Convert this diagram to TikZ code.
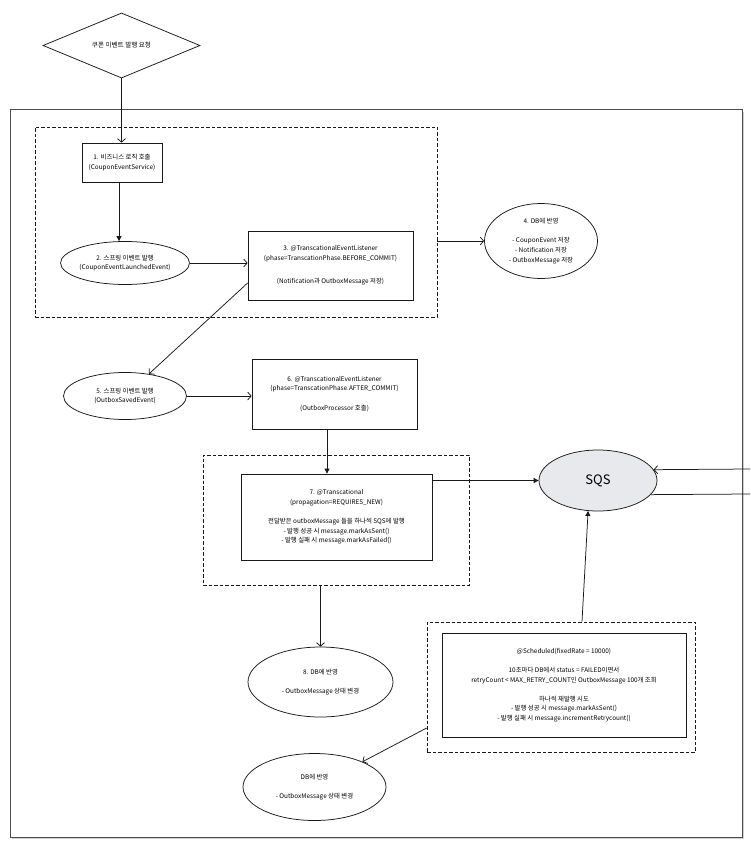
\documentclass[tikz,border=0pt]{standalone}
\usepackage{fontspec}
\setmainfont{Noto Sans CJK KR}
\usetikzlibrary{shapes.geometric,arrows.meta,calc}
\definecolor{sqsfill}{RGB}{232,233,236}
\begin{document}
\begin{tikzpicture}[x=1pt,y=-1pt,
  every node/.style={font=\fontsize{6.4}{9.6}\selectfont, text=black, align=center, inner sep=0pt},
  ln/.style={draw=black!90, line width=0.75pt},
  box/.style={ln, rectangle, fill=white},
  ell/.style={ln, ellipse, fill=white},
  grp/.style={draw=black!90, line width=0.75pt, dash pattern=on 3.5pt off 2pt, rectangle},
  openarr/.style={ln, -{Straight Barb[length=3.5pt,width=8pt,line width=0.75pt]}},
  filarr/.style={ln, -{Triangle[length=5pt,width=5pt]}}
]
\useasboundingbox (0,0) rectangle (750,853);
\fill[white] (0,0) rectangle (750,853);

% outer frame with faint shadow
\fill[black!18] (12,112) rectangle (744,839);
\node[draw=black!70, line width=1pt, fill=white, rectangle, minimum width=732pt, minimum height=727pt] (frame) at (376,473.5) {};

% groups
\node[grp, minimum width=402pt, minimum height=190pt] (dash1) at (236,222) {};
\node[grp, minimum width=266pt, minimum height=130pt] (dash2) at (336,520) {};
\node[grp, minimum width=268pt, minimum height=130pt] (dash3) at (561,687) {};

% nodes
\node[ln, diamond, fill=white, minimum width=157pt, minimum height=61pt, font=\fontsize{6.6}{9.6}\selectfont] (dia) at (121.5,45.5) {쿠폰 이벤트 발행 요청};
\node[box, minimum width=80pt, minimum height=39pt] (box1) at (122,162.5) {1. 비즈니스 로직 호출\\(CouponEventService)};
\node[ell, minimum width=124pt, minimum height=43pt] (e2) at (125,263) {2. 스프링 이벤트 발행\\(CouponEventLaunchedEvent)};
\node[box, minimum width=165pt, minimum height=69pt] (box3) at (330.5,265.5) {3. @TranscationalEventListener\\(phase=TranscationPhase.BEFORE\_COMMIT)\\[14pt](Notification과 OutboxMessage 저장)};
\node[ell, minimum width=113pt, minimum height=75pt] (e4) at (541,241) {4. DB에 반영\\[9.6pt]- CouponEvent 저장\\- Notification 저장\\- OutboxMessage 저장};
\node[ell, minimum width=123pt, minimum height=47pt] (e5) at (125,396) {5. 스프링 이벤트 발행\\(OutboxSavedEvent)};
\node[box, minimum width=165pt, minimum height=70pt] (box6) at (334.5,394) {6. @TranscationalEventListener\\(phase=TranscationPhase.AFTER\_COMMIT)\\[10pt](OutboxProcessor 호출)};
\node[box, minimum width=191pt, minimum height=86pt] (box7) at (336.5,517) {7. @Transcational\\(propagation=REQUIRES\_NEW)\\[9.6pt]전달받은 outboxMessage 들을 하나씩 SQS에 발행\\- 발행 성공 시 message.markAsSent()\\- 발행 실패 시 message.markAsFailed()};
\node[ln, ellipse, fill=sqsfill, minimum width=118pt, minimum height=61pt, font=\fontsize{13}{15}\selectfont] (sqs) at (598,480.5) {SQS};
\node[ell, minimum width=145pt, minimum height=70pt] (e8) at (320.5,682) {8. DB에 반영\\[9.6pt]- OutboxMessage 상태 변경};
\node[box, minimum width=244pt, minimum height=104pt] (sch) at (564,685) {@Scheduled(fixedRate = 10000)\\[9.6pt]10초마다 DB에서 status = FAILED이면서\\retryCount < MAX\_RETRY\_COUNT인 OutboxMessage 100개 조회\\[9.6pt]하나씩 재발행 시도\\- 발행 성공 시 message.markAsSent()\\- 발행 실패 시 message.incrementRetrycount()};
\node[ell, minimum width=143pt, minimum height=67pt] (e9) at (314.5,787) {DB에 반영\\[9.6pt]- OutboxMessage 상태 변경};

\coordinate (r1) at (750,469);
\coordinate (r2) at (750,494);

% connectors
\draw[openarr] (dia.south) -- (dia.south |- box1.north);
\draw[filarr] ([xshift=-3pt]box1.south) -- ([xshift=-3pt]box1.south |- e2.north);
\draw[openarr] (e2.east) -- (box3.west |- e2.east);
\draw[openarr] (dash1.east |- e4.west) -- (e4.west);
\draw[openarr] ([yshift=-17.5pt]box3.west) -- (e5);
\draw[openarr] (e5.east) -- (box6.west |- e5.east);
\draw[filarr] ([xshift=-7.5pt]box6.south) -- ([xshift=-7.5pt]box6.south |- box7.north);
\draw[filarr] (box7.east |- sqs.west) -- (sqs.west);
\draw[openarr] (e8.north |- dash2.south) -- (e8.north);
\draw[filarr] ([xshift=21pt]dash3.north) -- (sqs.252);
\draw[openarr] ([yshift=-41pt]dash3.west) -- (e9);
\draw[openarr] (r1) -- (sqs.11);
\draw[ln] (sqs.-15) -- (r2);
\end{tikzpicture}
\end{document}
